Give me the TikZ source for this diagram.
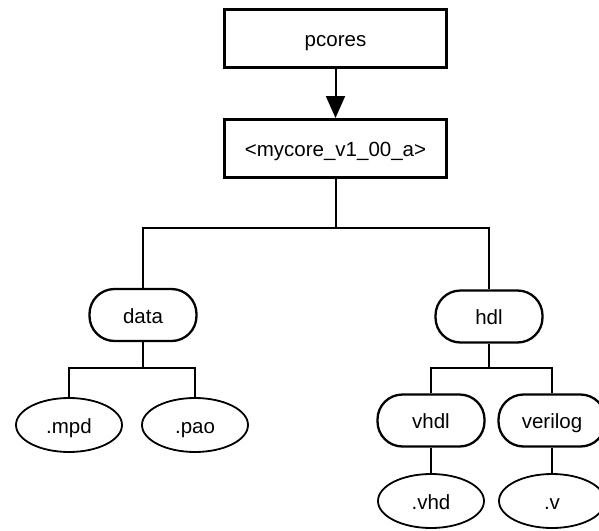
\documentclass[tikz,border=0pt]{standalone}
\usepackage{fontspec}
\setmainfont{Liberation Sans}
\usetikzlibrary{arrows.meta,shapes.geometric}
\begin{document}
\begin{tikzpicture}[x=1pt,y=-1pt,
  lbl/.style={font=\fontsize{20.5}{24}\selectfont,text height=18pt,text depth=2pt},
  boxnode/.style={draw,line width=3pt,minimum width=222pt,minimum height=58pt,inner sep=0pt,lbl},
  dirnode/.style={draw,line width=2.3pt,rounded corners=25pt,minimum width=107pt,minimum height=52pt,inner sep=0pt,lbl},
  filenode/.style={draw,ellipse,line width=1.8pt,minimum width=106pt,minimum height=54pt,inner sep=0pt,lbl},
  link/.style={line width=2pt}]
\useasboundingbox (0,0) rectangle (599,530);
\clip (0,0) rectangle (599,530);

% top-level directories
\node[boxnode] (pcores) at (335.5,38.5) {pcores};
\node[boxnode] (mycore) at (335.5,148.5) {<mycore\_v1\_00\_a>};

% subdirectories
\node[dirnode] (data) at (143,315) {data};
\node[dirnode] (hdl) at (489,316.5) {hdl};
\node[dirnode] (vhdl) at (431,420.5) {vhdl};
\node[dirnode] (verilog) at (552,420.5) {verilog};

% files
\node[filenode] (mpd) at (69,425) {.mpd};
\node[filenode] (pao) at (195,425) {.pao};
\node[filenode] (vhd) at (431,501) {.vhd};
\node[filenode] (v) at (552,501) {.v};

% branch points
\coordinate (bar1) at (335.5,228);
\coordinate (bar2) at (143,368);
\coordinate (bar3) at (489,368);

% connectors
\draw[link,-{Triangle[length=22pt,width=19pt]}] (pcores) -- (mycore);
\draw[link] (mycore.south) -- (bar1);
\draw[link] (data.north) |- (bar1) -| (hdl.north);
\draw[link] (data.south) -- (bar2);
\draw[link] (mpd.north) |- (bar2) -| (pao.north);
\draw[link] (hdl.south) -- (bar3);
\draw[link] (vhdl.north) |- (bar3) -| (verilog.north);
\draw[link] (vhdl) -- (vhd);
\draw[link] (verilog) -- (v);
\end{tikzpicture}
\end{document}
